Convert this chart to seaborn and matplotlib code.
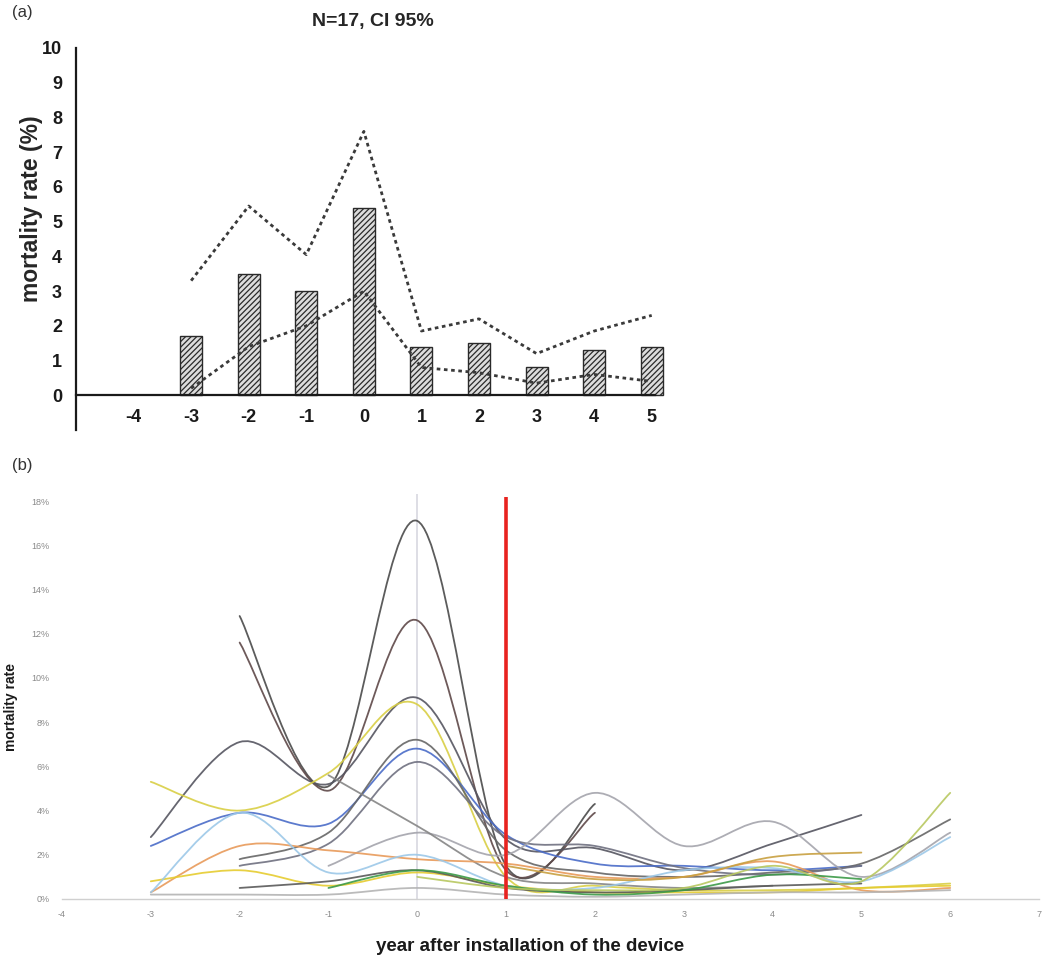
import numpy as np
import matplotlib
matplotlib.use("Agg")
import matplotlib.pyplot as plt
from matplotlib.path import Path
from matplotlib.patches import PathPatch
import seaborn as sns

# ---------------- panel (a): pooled mortality with 95% CI ----------------
years_a = [-3, -2, -1, 0, 1, 2, 3, 4, 5]
mortality_a = [1.7, 3.5, 3.0, 5.4, 1.4, 1.5, 0.8, 1.3, 1.4]
ci_upper = [3.3, 5.45, 4.05, 7.6, 1.85, 2.2, 1.2, 1.85, 2.3]
ci_lower = [0.2, 1.4, 2.0, 3.0, 0.8, 0.65, 0.35, 0.6, 0.4]
xticks_a = [-4, -3, -2, -1, 0, 1, 2, 3, 4, 5]
yticks_a = [0, 1, 2, 3, 4, 5, 6, 7, 8, 9, 10]

# ---------------- panel (b): individual centre curves ----------------
years_b = [-3, -2, -1, 0, 1, 2, 3, 4, 5, 6]
nan = np.nan
centre_01 = [nan, 12.8, 5.1, 17.1, 1.5, 4.3, nan, nan, nan, nan]
centre_02 = [nan, 11.6, 4.9, 12.6, 1.3, 3.9, nan, nan, nan, nan]
centre_03 = [2.8, 7.1, 5.2, 9.1, 2.7, 2.3, 1.3, 2.5, 3.8, nan]
centre_04 = [5.3, 4.0, 5.7, 8.8, 1.0, 0.6, 0.4, 0.4, 0.5, 0.7]
centre_05 = [2.4, 3.9, 3.4, 6.8, 2.9, 1.6, 1.5, 1.3, 1.5, nan]
centre_06 = [nan, 1.8, 3.0, 7.2, 2.2, 1.2, 1.0, 1.2, 1.6, 3.6]
centre_07 = [nan, 1.5, 2.5, 6.2, 2.8, 2.4, 1.4, 1.1, 1.5, nan]
centre_08 = [nan, nan, 1.5, 3.0, 2.0, 4.8, 2.4, 3.5, 1.0, 3.0]
centre_09 = [nan, nan, 5.6, 3.3, 1.0, 0.7, 0.5, 0.6, nan, nan]
centre_10 = [0.3, 2.4, 2.2, 1.8, 1.6, 1.0, 1.0, 1.7, 0.4, 0.5]
centre_11 = [0.8, 1.3, 0.6, 1.2, 0.6, 0.3, 0.3, 0.3, 0.5, 0.6]
centre_12 = [0.3, 3.9, 1.2, 2.0, 0.6, 0.5, 1.3, 1.4, 0.8, 2.8]
centre_13 = [0.2, 0.2, 0.2, 0.5, 0.2, 0.1, 0.2, 0.3, 0.3, 0.4]
centre_14 = [nan, 0.5, 0.8, 1.3, 0.5, 0.3, 0.4, 0.6, 0.7, nan]
centre_15 = [nan, nan, 0.5, 1.3, 0.6, 0.2, 0.4, 1.1, 0.9, nan]
centre_16 = [nan, nan, nan, nan, 1.5, 0.9, 1.0, 1.9, 2.1, nan]
centre_17 = [nan, nan, nan, 1.0, 0.5, 0.4, 0.5, 1.5, 0.8, 4.8]
centres = [centre_01, centre_02, centre_03, centre_04, centre_05, centre_06,
           centre_07, centre_08, centre_09, centre_10, centre_11, centre_12,
           centre_13, centre_14, centre_15, centre_16, centre_17]
centre_colors = ["#4a4a4a", "#5e4848", "#555560", "#d9cf45", "#4a6cc8",
                 "#666666", "#6f7080", "#a4a4ac", "#858585", "#e89a5a",
                 "#e6cc30", "#9cc8e8", "#b4b4b4", "#5a5a5a", "#3c9a48",
                 "#c8a040", "#b8c860"]
xticks_b = [-4, -3, -2, -1, 0, 1, 2, 3, 4, 5, 6, 7]
yticks_b = [0, 2, 4, 6, 8, 10, 12, 14, 16, 18]
device_year = 1

sns.set_style("white")
plt.rcParams["font.family"] = ["Liberation Sans", "DejaVu Sans"]
plt.rcParams["hatch.linewidth"] = 0.9
plt.rcParams["axes.unicode_minus"] = False

fig = plt.figure(figsize=(10.47, 9.56), dpi=100)

# ---- panel (a) ----
ax1 = fig.add_axes([76 / 1047, 1 - 430 / 956, 593 / 1047, 382 / 956])
sns.barplot(x=years_a, y=mortality_a, native_scale=True, width=0.38,
            color="#dcdcdc", edgecolor="#2a2a2a", linewidth=1.0, ax=ax1)
for bar in ax1.patches:
    bar.set_hatch("//////")
sns.lineplot(x=years_a, y=ci_upper, color="#3a3a3a", lw=2.0,
             linestyle=(0, (1.3, 1.3)), ax=ax1)
sns.lineplot(x=years_a, y=ci_lower, color="#3a3a3a", lw=2.0,
             linestyle=(0, (1.3, 1.3)), ax=ax1)
ax1.set_xlim(-5, 5.3)
ax1.set_ylim(-1, 10)
for s in ["top", "right"]:
    ax1.spines[s].set_visible(False)
ax1.spines["bottom"].set_position(("data", 0))
ax1.spines["bottom"].set_bounds(-5, 5.05)
ax1.spines["left"].set_bounds(-1, 10)
for s in ["bottom", "left"]:
    ax1.spines[s].set_linewidth(1.6)
    ax1.spines[s].set_color("#1a1a1a")
ax1.set_xticks(xticks_a)
ax1.set_yticks(yticks_a)
ax1.tick_params(axis="both", direction="out", length=7, width=1.6,
                colors="#1a1a1a", labelsize=13)
ax1.tick_params(axis="x", pad=3)
ax1.tick_params(axis="y", pad=3)
for lab in ax1.get_xticklabels() + ax1.get_yticklabels():
    lab.set_fontweight("bold")
ax1.set_ylabel("mortality rate (%)", fontsize=16.5, fontweight="bold")
ax1.yaxis.set_label_coords(-0.055, 0.58)
ax1.set_xlabel("")
ax1.set_title("N=17, CI 95%", fontsize=14, fontweight="bold", pad=16)
fig.text(12 / 1047, 1 - 17 / 956, "(a)", fontsize=12, color="#333333")

# ---- panel (b) ----
def smooth_path(xs, ys):
    """Bezier path through the points with Excel-style smoothing."""
    pts = [(x, y) for x, y in zip(xs, ys) if not np.isnan(y)]
    verts = [pts[0]]
    codes = [Path.MOVETO]
    n = len(pts)
    for i in range(n - 1):
        p0 = pts[i - 1] if i > 0 else pts[i]
        p1 = pts[i]
        p2 = pts[i + 1]
        p3 = pts[i + 2] if i + 2 < n else pts[i + 1]
        c1 = (p1[0] + (p2[0] - p0[0]) / 6, p1[1] + (p2[1] - p0[1]) / 6)
        c2 = (p2[0] - (p3[0] - p1[0]) / 6, p2[1] - (p3[1] - p1[1]) / 6)
        verts += [c1, c2, p2]
        codes += [Path.CURVE4] * 3
    return Path(verts, codes)

ax2 = fig.add_axes([62 / 1047, 1 - 899 / 956, 977 / 1047, 409 / 956])
ax2.set_xlim(-4, 7)
ax2.set_ylim(0, 18.5)
ax2.vlines(0, 0, 18.3, color="#d8d8e0", lw=1.2, zorder=0)
for vals, col in zip(centres, centre_colors):
    patch = PathPatch(smooth_path(years_b, vals), fill=False, edgecolor=col,
                      lw=1.3, alpha=0.9, capstyle="round")
    ax2.add_patch(patch)
ax2.vlines(device_year, 0, 18.2, color="#e8231f", lw=2.6, zorder=5)
for s in ["top", "right", "left"]:
    ax2.spines[s].set_visible(False)
ax2.spines["bottom"].set_color("#d0d0d0")
ax2.spines["bottom"].set_linewidth(1.0)
ax2.set_xticks(xticks_b)
ax2.set_xticklabels([str(t) for t in xticks_b])
ax2.set_yticks(yticks_b)
ax2.set_yticklabels([f"{t}%" for t in yticks_b])
ax2.tick_params(axis="both", length=0, labelsize=6.5, colors="#8a8a8a")
ax2.tick_params(axis="x", pad=8)
ax2.tick_params(axis="y", pad=9)
ax2.set_xlabel("year after installation of the device", fontsize=13.5,
               fontweight="bold", color="#1a1a1a")
ax2.xaxis.set_label_coords((530 - 62) / 977, -0.095)
ax2.set_ylabel("mortality rate", fontsize=10, fontweight="bold", color="#1a1a1a")
ax2.yaxis.set_label_coords(-0.045, 0.47)
fig.text(12 / 1047, 1 - 470 / 956, "(b)", fontsize=12, color="#333333")

fig.savefig("out.png", dpi=100, facecolor="white")
